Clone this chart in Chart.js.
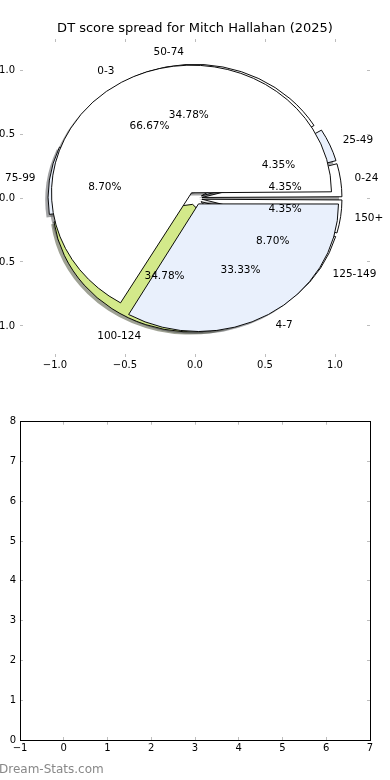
<!DOCTYPE html>
<html>
<head>
<meta charset="utf-8">
<script src="https://cdn.jsdelivr.net/npm/chart.js@4.4.1/dist/chart.umd.min.js"></script>
<style>
  html, body { margin: 0; padding: 0; background: #fff; }
  #page { position: relative; width: 390px; height: 780px; overflow: hidden; background: #fff; }
  canvas { position: absolute; left: 0; }
  #watermark { position: absolute; left: -1px; top: 763px; font: 12px/12px 'DejaVu Sans', sans-serif; color: #888; white-space: nowrap; }
</style>
</head>
<body>
<div id="page">
  <canvas id="pie_axes" width="390" height="390" style="top:0"></canvas>
  <canvas id="pie_scores" width="390" height="390" style="top:0"></canvas>
  <canvas id="pie_groups" width="390" height="390" style="top:0"></canvas>
  <canvas id="empty_axes" width="390" height="390" style="top:390px"></canvas>
  <div id="watermark">Dream-Stats.com</div>
</div>
<script>
const chartTitle = 'DT score spread for Mitch Hallahan (2025)';

// score ranges (games per range)
const scoreRanges = ['0-24', '25-49', '50-74', '75-99', '100-124', '125-149', '150+'];
const scoreGames = [1, 1, 8, 2, 8, 2, 1];
const scoreColours = ['#ffffff', '#e9f0fc', '#ffffff', '#e9f0fc', '#d3e98a', '#ffffff', '#ffffff'];

// second pie, drawn over the first one
const groupLabels = ['0-3', '4-7'];
const groupValues = [2, 1];
const groupColours = ['#ffffff', '#e9f0fc'];

// axis ticks
const pieTicks = [-1, -0.5, 0, 0.5, 1];
const emptyXTicks = [-1, 0, 1, 2, 3, 4, 5, 6, 7];
const emptyYTicks = [0, 1, 2, 3, 4, 5, 6, 7, 8];

const RADIUS = 140;          // pie radius in px (x direction)
const SQUASH = 127.65 / 140; // y px per unit / x px per unit
const EXPLODE = 7;           // 0.05 of the radius
const SHADOW = 2.8;          // 0.02 of the radius

Chart.defaults.font.family = "'DejaVu Sans', sans-serif";
Chart.defaults.font.size = 10;
Chart.defaults.color = '#000';
Chart.defaults.animation = false;

const minus = v => (v < 0 ? '\u2212' : '') + Math.abs(v);

function axis(position, min, max, tickValues, size, showLabels, pad, fmt, border) {
  return {
    type: 'linear',
    position: position,
    min: min,
    max: max,
    afterBuildTicks: s => { s.ticks = tickValues.map(v => ({ value: v })); },
    afterFit: s => {
      if (s.isHorizontal()) s.height = size;
      else s.width = size;
    },
    grid: { drawOnChartArea: false, drawTicks: true, tickLength: -3, tickColor: '#bdbdbd' },
    border: { display: border, color: '#000', width: 1 },
    ticks: { display: showLabels, padding: pad, autoSkip: false, maxRotation: 0, callback: fmt }
  };
}

// axes behind the pies
const fmtPie = v => (v < 0 ? '\u2212' : '') + Math.abs(v).toFixed(1);
new Chart(document.getElementById('pie_axes'), {
  type: 'scatter',
  data: { datasets: [] },
  options: {
    responsive: false,
    events: [],
    layout: { padding: 0 },
    plugins: {
      legend: { display: false },
      tooltip: { enabled: false },
      title: {
        display: true,
        text: chartTitle,
        font: { size: 13, weight: 'normal' },
        padding: { top: 21, bottom: 2.4 }
      }
    },
    scales: {
      x: axis('bottom', -1.25, 1.25, pieTicks, 33, true, 5, fmtPie, false),
      x2: axis('top', -1.25, 1.25, pieTicks, 0, false, 0, fmtPie, false),
      y: axis('left', -1.243, 1.243, pieTicks, 20, true, 8, fmtPie, false),
      y2: axis('right', -1.243, 1.243, pieTicks, 20, false, 0, fmtPie, false)
    }
  }
});

const pies = {};

function shade(hex) {
  const n = parseInt(hex.slice(1), 16);
  const r = Math.round(((n >> 16) & 255) * 0.3);
  const g = Math.round(((n >> 8) & 255) * 0.3);
  const b = Math.round((n & 255) * 0.3);
  return 'rgba(' + r + ',' + g + ',' + b + ',0.5)';
}

function drawShadows(ctx, pie) {
  const arcs = pie.getDatasetMeta(0).data;
  const colours = pie.data.datasets[0].backgroundColor;
  arcs.forEach((arc, i) => {
    const mid = (arc.startAngle + arc.endAngle) / 2;
    const x = arc.x + Math.cos(mid) * EXPLODE - SHADOW;
    const y = arc.y + Math.sin(mid) * EXPLODE + SHADOW;
    ctx.beginPath();
    ctx.moveTo(x, y);
    ctx.arc(x, y, RADIUS, arc.startAngle, arc.endAngle);
    ctx.closePath();
    ctx.fillStyle = shade(colours[i]);
    ctx.fill();
  });
}

function drawLabels(ctx, pie) {
  const arcs = pie.getDatasetMeta(0).data;
  const values = pie.data.datasets[0].data;
  const total = values.reduce((a, b) => a + b, 0);
  ctx.font = "10.5px 'DejaVu Sans', sans-serif";
  ctx.fillStyle = '#000';
  ctx.textBaseline = 'middle';
  arcs.forEach((arc, i) => {
    const mid = (arc.startAngle + arc.endAngle) / 2;
    const at = d => [arc.x + Math.cos(mid) * d, arc.y + Math.sin(mid) * d * SQUASH];
    const [lx, ly] = at(EXPLODE + 1.1 * RADIUS);
    ctx.textAlign = lx > arc.x ? 'left' : 'right';
    ctx.fillText(pie.data.labels[i], lx, ly);
    const [px, py] = at(EXPLODE + 0.6 * RADIUS);
    ctx.textAlign = 'center';
    ctx.fillText((values[i] / total * 100).toFixed(2) + '%', px, py);
  });
}

// pies are drawn as ellipses like the reference, shadows under every wedge
const squashPlugin = {
  id: 'squash',
  afterUpdate(chart) {
    // v4 arcs grow by offset/4 * fix, undo that so only the shift remains
    chart.getDatasetMeta(0).data.forEach(arc => {
      const fix = 1 - Math.sin(Math.min(Math.PI, arc.circumference));
      arc.outerRadius = RADIUS - EXPLODE * fix;
    });
  },
  beforeDatasetsDraw(chart) {
    const ctx = chart.ctx;
    const arc = chart.getDatasetMeta(0).data[0];
    ctx.save();
    ctx.translate(arc.x, arc.y);
    ctx.scale(1, SQUASH);
    ctx.translate(-arc.x, -arc.y);
    if (chart.canvas.id === 'pie_scores') {
      [pies.scores, pies.groups].filter(Boolean).forEach(p => drawShadows(ctx, p));
    }
  },
  afterDatasetsDraw(chart) {
    chart.ctx.restore();
  }
};

const labelPlugin = {
  id: 'pieLabels',
  afterDraw(chart) {
    [pies.scores, chart].forEach(p => drawLabels(chart.ctx, p));
  }
};

function makePie(id, labels, values, colours) {
  // matplotlib goes counter-clockwise from 3 o'clock, Chart.js clockwise
  const rev = a => a.slice().reverse();
  return new Chart(document.getElementById(id), {
    type: 'pie',
    data: {
      labels: rev(labels),
      datasets: [{
        data: rev(values),
        backgroundColor: rev(colours),
        borderColor: '#000',
        borderWidth: 1,
        offset: EXPLODE * 4,
        hoverOffset: 0,
        hoverBorderWidth: 1,
        rotation: 90,
        radius: RADIUS,
        clip: false
      }]
    },
    options: {
      responsive: false,
      events: [],
      rotation: 90,
      radius: RADIUS,
      layout: { padding: { left: 40, right: 40, top: 46.7, bottom: 40 } },
      plugins: { legend: { display: false }, tooltip: { enabled: false } }
    },
    plugins: id === 'pie_groups' ? [squashPlugin, labelPlugin] : [squashPlugin]
  });
}

pies.scores = makePie('pie_scores', scoreRanges, scoreGames, scoreColours);
pies.groups = makePie('pie_groups', groupLabels, groupValues, groupColours);
pies.scores.draw();

// empty second subplot
new Chart(document.getElementById('empty_axes'), {
  type: 'scatter',
  data: { datasets: [] },
  options: {
    responsive: false,
    events: [],
    layout: { padding: { left: 0, right: 0, top: 31.7, bottom: 0 } },
    plugins: { legend: { display: false }, tooltip: { enabled: false } },
    scales: {
      x: axis('bottom', -1, 7, emptyXTicks, 40, true, 5, minus, true),
      x2: axis('top', -1, 7, emptyXTicks, 0, false, 0, minus, true),
      y: axis('left', 0, 8, emptyYTicks, 20, true, 7, minus, true),
      y2: axis('right', 0, 8, emptyYTicks, 20, false, 0, minus, true)
    }
  }
});
</script>
</body>
</html>
